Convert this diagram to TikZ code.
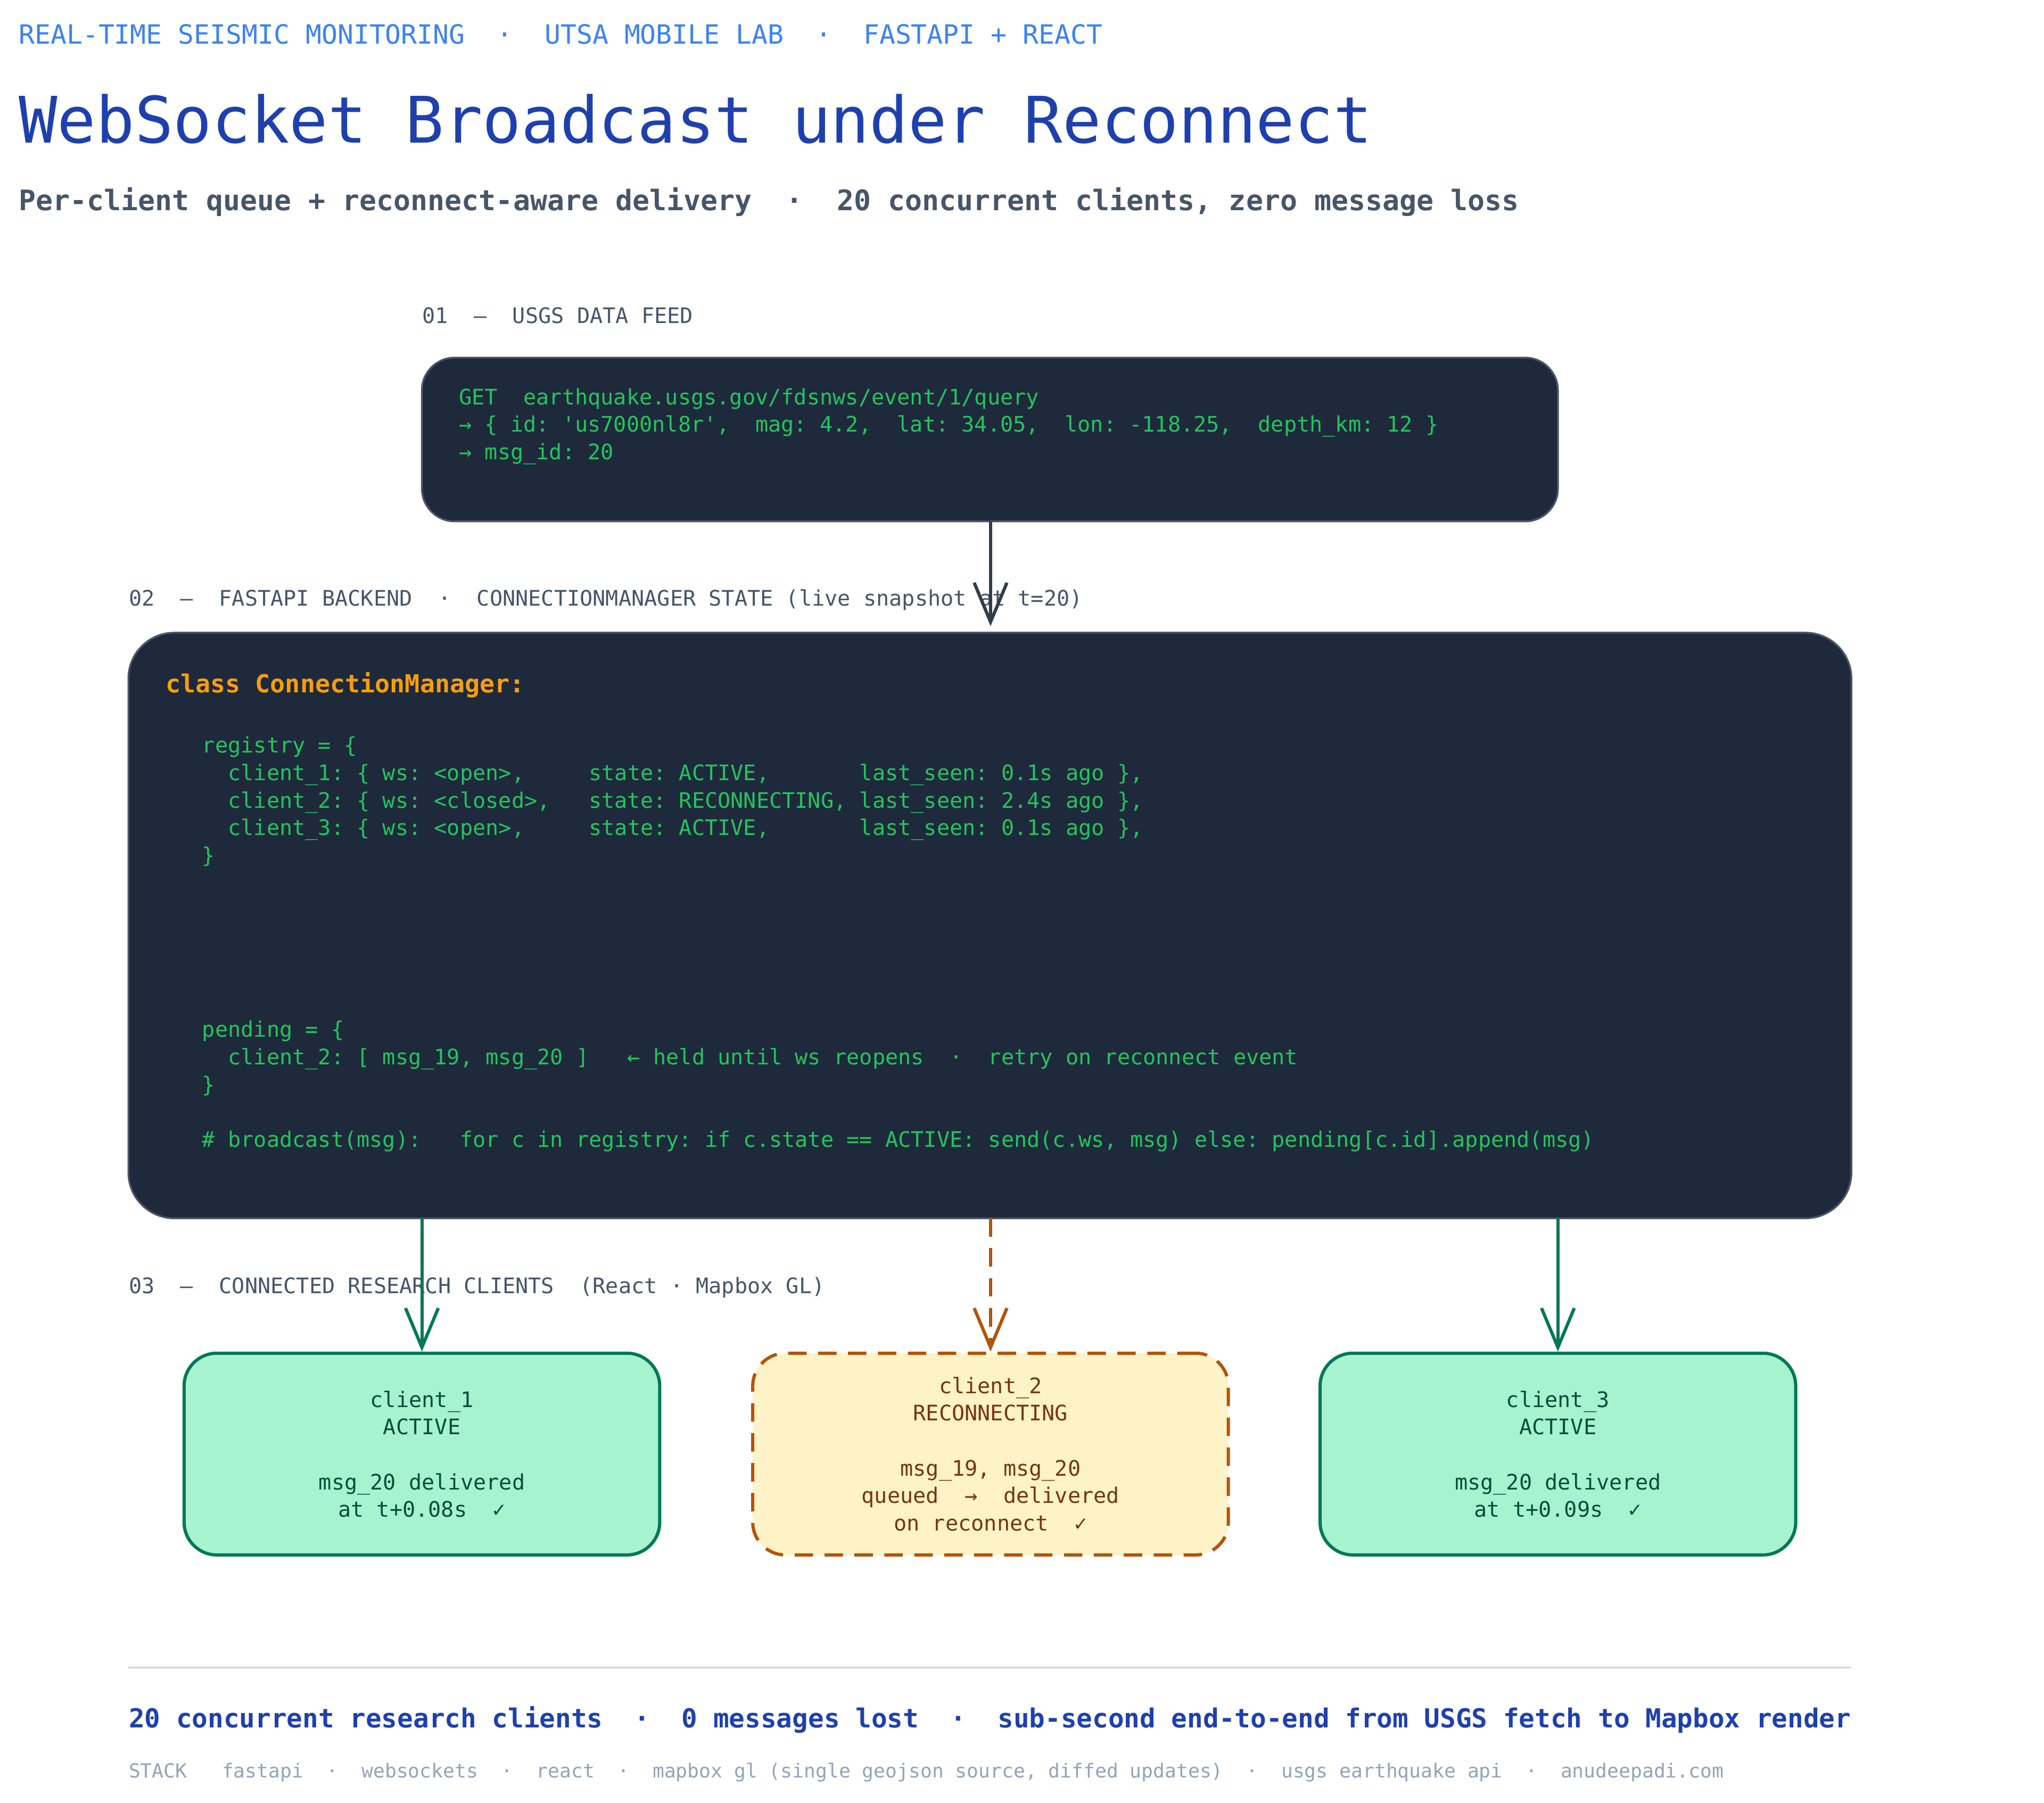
\documentclass[tikz,border=0pt]{standalone}
\usepackage{fontspec}
\setmonofont{DejaVu Sans Mono}
\usetikzlibrary{arrows.meta}
\definecolor{navy}{HTML}{1E40AF}
\definecolor{skyblue}{HTML}{3B82F6}
\definecolor{slate}{HTML}{475569}
\definecolor{panel}{HTML}{1E293B}
\definecolor{codegreen}{HTML}{22C55E}
\definecolor{amber}{HTML}{F59E0B}
\definecolor{okline}{HTML}{047857}
\definecolor{okfill}{HTML}{A7F3D0}
\definecolor{oktext}{HTML}{064E3B}
\definecolor{warnline}{HTML}{B45309}
\definecolor{warnfill}{HTML}{FEF3C7}
\definecolor{warntext}{HTML}{78350F}
\definecolor{rulegray}{HTML}{CBD5E1}
\definecolor{faint}{HTML}{94A3B8}
\tikzset{
  txt/.style={anchor=west,inner sep=0,font=\ttfamily},
  seclbl/.style={txt,text=slate,font=\ttfamily\fontsize{9.3}{11}\selectfont},
  code/.style={txt,text=codegreen,align=left,font=\ttfamily\fontsize{9.3}{11.95}\selectfont},
  panelbox/.style={fill=panel,draw=panel!80!white,line width=0.8pt},
  client/.style={draw=okline,fill=okfill,line width=1.4pt,rounded corners=0.5cm,
                 text=oktext,align=center,font=\ttfamily\fontsize{9.3}{11.95}\selectfont},
  waiting/.style={client,draw=warnline,fill=warnfill,text=warntext,dash pattern=on 8pt off 5pt},
  feed/.style={-{Straight Barb[length=0.6cm,width=0.5cm]},line width=1.4pt},
}
\begin{document}
\begin{tikzpicture}[x=0.02cm,y=-0.02cm]
  \useasboundingbox[fill=white] (0,0) rectangle (1560,1376);

  % HEADER
  \node[txt,text=skyblue,font=\ttfamily\fontsize{11.5}{13}\selectfont] (kicker) at (14,26)
    {REAL-TIME SEISMIC MONITORING~~·~~UTSA MOBILE LAB~~·~~FASTAPI + REACT};
  \node[txt,text=navy,font=\ttfamily\fontsize{27.9}{30}\selectfont] (title) at (14,91)
    {WebSocket Broadcast under Reconnect};
  \node[txt,text=slate,font=\ttfamily\bfseries\fontsize{12.3}{14}\selectfont] (subtitle) at (14,154)
    {Per-client queue + reconnect-aware delivery~~·~~20 concurrent clients, zero message loss};

  % FEED
  \node[seclbl] (lbl1) at (322,241) {01~~–~~USGS DATA FEED};
  \draw[panelbox,rounded corners=0.5cm] (322,273) rectangle (1189,398);
  \coordinate (feedout) at (756,398);
  \node[code,anchor=north west] (query) at (350,296)
    {GET~~earthquake.usgs.gov/fdsnws/event/1/query\\
     → \{ id: 'us7000nl8r',~~mag: 4.2,~~lat: 34.05,~~lon: -118.25,~~depth\_km: 12 \}\\
     → msg\_id: 20};

  % BACKEND
  \node[seclbl] (lbl2) at (98,458)
    {02~~–~~FASTAPI BACKEND~~·~~CONNECTIONMANAGER STATE (live snapshot at t=20)};
  \draw[panelbox,rounded corners=0.7cm] (98,483) rectangle (1413,930);
  \coordinate (mgrin) at (756,478);
  \draw[feed,draw=slate!70!black] (feedout) -- (mgrin);
  \node[txt,text=amber,font=\ttfamily\bfseries\fontsize{10.8}{13}\selectfont] (cls) at (126,523)
    {class ConnectionManager:};
  \node[code,anchor=north west] (registry) at (154,562)
    {registry = \{\\
     ~~client\_1: \{ ws: <open>,~~~~~state: ACTIVE,~~~~~~~last\_seen: 0.1s ago \},\\
     ~~client\_2: \{ ws: <closed>,~~~state: RECONNECTING, last\_seen: 2.4s ago \},\\
     ~~client\_3: \{ ws: <open>,~~~~~state: ACTIVE,~~~~~~~last\_seen: 0.1s ago \},\\
     \}};
  \node[code,anchor=north west] (pending) at (154,779)
    {pending = \{\\
     ~~client\_2: [ msg\_19, msg\_20 ]~~~← held until ws reopens~~·~~retry on reconnect event\\
     \}};
  \node[code] (bcast) at (154,871)
    {\# broadcast(msg):~~~for c in registry: if c.state == ACTIVE: send(c.ws, msg) else: pending[c.id].append(msg)};

  % CLIENTS
  \node[seclbl] (lbl3) at (98,983)
    {03~~–~~CONNECTED RESEARCH CLIENTS~~(React · Mapbox GL)};
  \node[client,minimum width=363*0.02cm,minimum height=154*0.02cm] (c1) at (322,1110)
    {client\_1\\ACTIVE\\[11.95pt]msg\_20 delivered\\at t+0.08s~~✓};
  \node[waiting,minimum width=363*0.02cm,minimum height=154*0.02cm] (c2) at (756,1110)
    {client\_2\\RECONNECTING\\[11.95pt]msg\_19, msg\_20\\queued~~→~~delivered\\on reconnect~~✓};
  \node[client,minimum width=363*0.02cm,minimum height=154*0.02cm] (c3) at (1189,1110)
    {client\_3\\ACTIVE\\[11.95pt]msg\_20 delivered\\at t+0.09s~~✓};
  \coordinate (out1) at (322,930);
  \coordinate (out2) at (756,930);
  \coordinate (out3) at (1189,930);
  \draw[feed,okline] (out1) -- (c1.north);
  \draw[feed,warnline,dash pattern=on 8pt off 5pt] (out2) -- (c2.north);
  \draw[feed,okline] (out3) -- (c3.north);

  % FOOTER
  \draw[rulegray,line width=0.8pt] (98,1273) coordinate (ruleL) -- (1413,1273) coordinate (ruleR);
  \node[txt,text=navy,font=\ttfamily\bfseries\fontsize{11.4}{13}\selectfont] (summary) at (98,1313)
    {20 concurrent research clients~~·~~0 messages lost~~·~~sub-second end-to-end from USGS fetch to Mapbox render};
  \node[txt,text=faint,font=\ttfamily\fontsize{8.4}{10}\selectfont] (stack) at (98,1353)
    {STACK~~~fastapi~~·~~websockets~~·~~react~~·~~mapbox gl (single geojson source, diffed updates)~~·~~usgs earthquake api~~·~~anudeepadi.com};
\end{tikzpicture}
\end{document}
